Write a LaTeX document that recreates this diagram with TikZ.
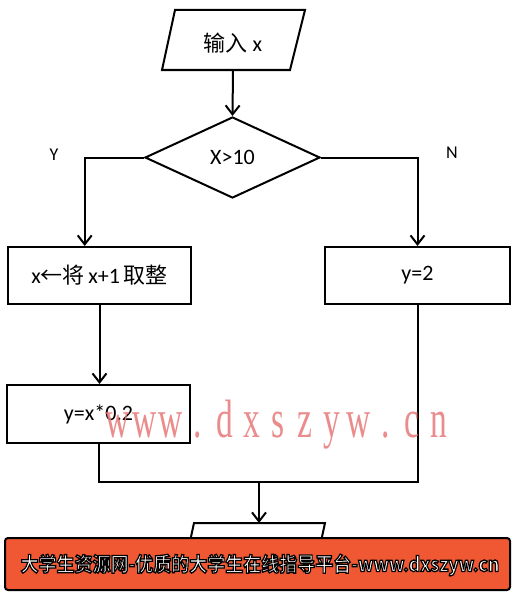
\documentclass[tikz,border=0pt]{standalone}
\usepackage{fontspec}
\setmainfont{Carlito}
\newfontfamily\cjk{Noto Sans CJK SC}
\newfontfamily\cjkb{Noto Sans CJK SC Bold}
\newfontfamily\wmfont{Liberation Serif}
\usetikzlibrary{shapes.geometric,arrows.meta,calc}
\definecolor{banner}{RGB}{240,88,52}
\definecolor{wm}{RGB}{232,120,120}
\newcommand{\outlinetext}[1]{\special{pdf:literal direct 0 G 2 Tr 1.3 w}#1\special{pdf:literal direct 0 Tr}}
\tikzset{
  flow/.style={line width=2pt, line join=miter},
  arr/.style={flow, -{Straight Barb[length=9pt,width=14pt,line width=2pt]}},
  boxnode/.style={draw, flow, rectangle, minimum height=57pt, inner sep=0pt, font=\fontsize{22}{25}\selectfont},
  lab/.style={font=\fontsize{18}{20}\selectfont},
}
\begin{document}
\begin{tikzpicture}[x=1pt,y=-1pt]
\useasboundingbox (0,0) rectangle (514,594);
\fill[white] (0,0) rectangle (514,594);
% input parallelogram
\draw[flow] (175,10) -- (305,10) -- (290,70) -- (162,70) -- cycle;
\node[font=\fontsize{22}{25}\selectfont] (inp) at (233,43) {{\cjk 输入} x};
\coordinate (inpb) at (233,70);
% decision
\node[draw, flow, diamond, minimum width=175pt, minimum height=81pt, inner sep=0pt, font=\fontsize{22}{25}\selectfont] (dia) at (232.5,157.5) {X>10};
\draw[arr] (inpb) -- (dia.north);
% boxes
\node[boxnode, minimum width=183pt] (b1) at (99.5,275.5) {x{\cjk ←将}\,x+1\,{\cjk 取整}};
\node[boxnode, minimum width=185pt] (b2) at (417.5,275.5) {y=2};
\node[boxnode, minimum width=183pt, minimum height=58pt] (b3) at (98.5,414) {y=x*0.2};
% labels
\node[lab] (ylab) at (54,155) {Y};
\node[lab] (nlab) at (452,153) {N};
% connectors
\coordinate (ytop) at ($(b1.north west)!0.42!(b1.north east)$);
\draw[arr] (dia.west) -| (ytop);
\draw[arr] (dia.east) -| (b2.north);
\draw[arr] (b1.south) -- (b1.south |- b3.north);
\coordinate (m) at (259,482);
\draw[flow] (b3.south) |- (m);
\draw[flow] (b2.south) |- (m);
% output parallelogram (partly hidden)
\draw[flow] (194,523) -- (325,523) -- (312,583) -- (181,583) -- cycle;
\coordinate (outt) at (259,523);
\draw[arr] (m) -- (outt);
% watermark
\begin{scope}[opacity=0.85]
\foreach \c [count=\i from 0] in {w,w,w,.,d,x,s,z,y,w,.,c,n}{
  \node[text=wm, font=\wmfont\fontsize{54}{58}\selectfont, anchor=base, inner sep=0pt, xscale=0.62, transform shape] at ({104+26.8*(\i+0.5)},437) {\c};
}
\end{scope}
% banner
\draw[line width=2pt, fill=banner, rounded corners=3pt] (5,538) rectangle (510,590);
\begin{scope}[xscale=0.9]
\node[text=white, font=\cjkb\fontsize{20}{22}\selectfont, transform shape] (ban) at ({260/0.9},565) {\outlinetext{大学生资源网-优质的大学生在线指导平台-www.dxszyw.cn}};
\end{scope}
\end{tikzpicture}
\end{document}
